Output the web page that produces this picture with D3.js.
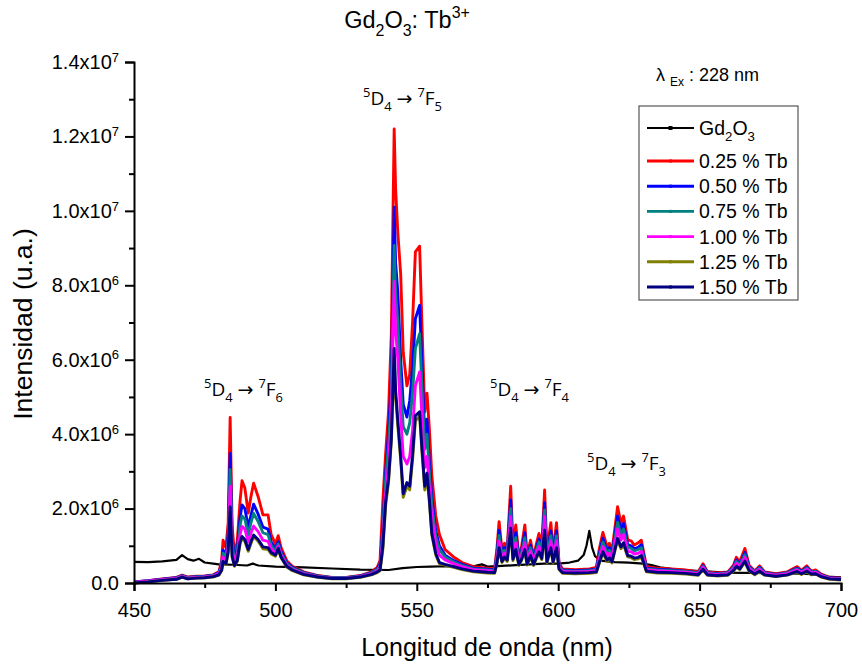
<!DOCTYPE html>
<html>
<head>
<meta charset="utf-8">
<script src="https://cdn.jsdelivr.net/npm/d3@7"></script>
<style>
  body { margin: 0; background: #fff; }
  text { font-family: "Liberation Sans", Arial, sans-serif; fill: #000; }
</style>
</head>
<body>
<div class="canvas"></div>
<script>

// ---- data (intensity in units of 10^6) ----

const gdNm = [450, 455, 460, 465, 467, 469, 471, 473, 475, 478, 480, 485, 490, 492, 494, 500, 510, 520, 530, 540,
  545, 550, 555, 560, 565, 570, 573, 575, 580, 585, 590, 595, 600, 604, 607, 609, 610, 611, 612, 613,
  615, 620, 625, 630, 633, 636, 640, 645, 650, 655, 660, 665, 670, 675, 680, 685, 690, 693, 695, 700];
const gdVal = [0.57, 0.56, 0.58, 0.62, 0.75, 0.64, 0.6, 0.65, 0.55, 0.52, 0.5, 0.49, 0.47, 0.52, 0.47, 0.44, 0.42, 0.39, 0.36, 0.35,
  0.4, 0.43, 0.44, 0.45, 0.44, 0.45, 0.5, 0.44, 0.46, 0.48, 0.5, 0.52, 0.52, 0.55, 0.6, 0.75, 1.0, 1.4, 0.95, 0.72,
  0.6, 0.56, 0.55, 0.52, 0.48, 0.42, 0.38, 0.35, 0.32, 0.3, 0.28, 0.27, 0.27, 0.26, 0.26, 0.25, 0.24, 0.2, 0.17, 0.15];

const tbNm = [450, 455, 460, 465, 467, 469, 472, 475, 478, 480,
  481, 481.5, 482.5, 483.3, 484, 484.7, 485.5, 486.5, 487.5, 488.2,
  489.2, 490.4, 491.3, 492.3, 493.9, 495.6, 497.4, 498.5, 500, 501,
  502, 504, 506, 510, 515, 520, 525, 530, 534, 536,
  537, 538, 539, 540, 541, 542, 542.5, 543.3, 544.3, 545.2,
  546.5, 547.5, 548.5, 549.5, 551, 551.8, 552.8, 553.6, 554.4, 555.3,
  556.7, 558, 560, 563, 566, 570, 575, 577.5, 578.3, 579.1,
  580.1, 581, 582, 583.2, 584, 585, 586.1, 587, 588.2, 589,
  590.2, 591.3, 592.3, 593.2, 594.2, 595.2, 596, 597.4, 598.2, 599.4,
  600.3, 601.5, 606, 611, 613.5, 614.5, 615.8, 617.3, 618.1, 619,
  621, 622.2, 623.1, 624.6, 625.8, 626.9, 628.3, 629.4, 631.2, 635,
  640, 645, 649.5, 651.2, 652.8, 656, 660, 662, 663, 664.2,
  666, 667.5, 669.5, 671.2, 673, 677, 681, 684.5, 686, 687.9,
  689.5, 691, 693, 696, 700];

const tb025 = [0.03, 0.06, 0.11, 0.15, 0.21, 0.16, 0.18, 0.19, 0.22, 0.30,
  0.60, 1.15, 0.95, 1.6, 4.45, 1.5, 0.85, 1.1, 2.2, 2.75,
  2.55, 1.88, 2.3, 2.68, 2.32, 1.83, 1.83, 1.3, 1.05, 1.27,
  0.95, 0.60, 0.45, 0.30, 0.20, 0.15, 0.15, 0.20, 0.30, 0.42,
  0.60, 2.2, 3.5, 4.6, 6.7, 12.2, 10.6, 9.4, 8.3, 6.2,
  5.3, 5.6, 7.0, 8.9, 9.05, 7.0, 4.6, 5.1, 4.2, 2.9,
  1.8, 1.3, 0.90, 0.70, 0.55, 0.44, 0.40, 0.38, 0.90, 1.65,
  0.89, 1.07, 0.95, 2.6, 0.97, 1.56, 0.71, 0.95, 1.56, 0.75,
  1.15, 0.71, 1.05, 1.33, 1.0, 2.5, 0.84, 1.62, 0.84, 1.62,
  0.53, 0.38, 0.36, 0.38, 0.42, 0.90, 1.36, 0.97, 1.07, 0.84,
  2.05, 1.6, 1.8, 1.15, 1.13, 1.02, 1.08, 1.15, 0.44, 0.40,
  0.38, 0.35, 0.30, 0.52, 0.30, 0.27, 0.30, 0.48, 0.69, 0.57,
  0.93, 0.48, 0.32, 0.46, 0.30, 0.25, 0.30, 0.44, 0.34, 0.46,
  0.32, 0.35, 0.24, 0.15, 0.13];

const tb050 = [0.03, 0.06, 0.10, 0.14, 0.20, 0.15, 0.17, 0.18, 0.21, 0.28,
  0.50, 0.88, 0.80, 1.3, 3.48, 1.2, 0.70, 0.90, 1.75, 2.1,
  2.0, 1.5, 1.8, 2.12, 1.85, 1.5, 1.45, 1.1, 0.92, 1.11,
  0.85, 0.55, 0.42, 0.28, 0.19, 0.14, 0.14, 0.19, 0.28, 0.38,
  0.50, 1.5, 3.0, 4.0, 5.5, 10.1, 8.6, 7.8, 6.0, 4.8,
  4.46, 4.9, 5.8, 7.1, 7.46, 5.9, 4.0, 4.4, 3.3, 2.3,
  1.4, 1.0, 0.75, 0.60, 0.50, 0.40, 0.37, 0.35, 0.75, 1.42,
  0.80, 0.95, 0.85, 2.23, 0.88, 1.35, 0.65, 0.85, 1.35, 0.68,
  1.02, 0.65, 0.95, 1.18, 0.90, 2.16, 0.76, 1.4, 0.76, 1.4,
  0.48, 0.35, 0.33, 0.35, 0.38, 0.78, 1.2, 0.86, 0.95, 0.76,
  1.8, 1.42, 1.6, 1.03, 1.0, 0.92, 0.96, 1.03, 0.40, 0.37,
  0.35, 0.32, 0.28, 0.47, 0.28, 0.25, 0.28, 0.44, 0.62, 0.51,
  0.82, 0.44, 0.30, 0.42, 0.28, 0.23, 0.28, 0.40, 0.32, 0.42,
  0.30, 0.32, 0.22, 0.14, 0.12];

const tb075 = [0.02, 0.05, 0.09, 0.13, 0.19, 0.14, 0.16, 0.17, 0.20, 0.26,
  0.45, 0.80, 0.72, 1.15, 3.05, 1.05, 0.62, 0.80, 1.55, 1.8,
  1.72, 1.3, 1.6, 1.87, 1.65, 1.35, 1.3, 1.02, 0.86, 1.05,
  0.80, 0.52, 0.40, 0.27, 0.18, 0.14, 0.14, 0.18, 0.27, 0.36,
  0.45, 1.35, 2.8, 3.7, 5.0, 9.07, 7.8, 7.0, 5.3, 4.2,
  4.0, 4.3, 5.1, 6.3, 6.7, 5.3, 3.6, 4.0, 3.0, 2.1,
  1.25, 0.90, 0.70, 0.57, 0.47, 0.38, 0.35, 0.33, 0.70, 1.28,
  0.75, 0.88, 0.80, 2.0, 0.82, 1.22, 0.62, 0.80, 1.22, 0.64,
  0.95, 0.62, 0.88, 1.1, 0.85, 1.96, 0.72, 1.27, 0.72, 1.27,
  0.46, 0.33, 0.31, 0.33, 0.36, 0.72, 1.1, 0.80, 0.88, 0.72,
  1.63, 1.3, 1.45, 0.95, 0.93, 0.86, 0.90, 0.95, 0.38, 0.35,
  0.33, 0.31, 0.27, 0.45, 0.27, 0.24, 0.27, 0.42, 0.58, 0.48,
  0.76, 0.42, 0.29, 0.40, 0.27, 0.22, 0.27, 0.38, 0.30, 0.40,
  0.29, 0.31, 0.21, 0.13, 0.11];

const tb100 = [0.02, 0.05, 0.09, 0.12, 0.18, 0.13, 0.15, 0.16, 0.19, 0.25,
  0.40, 0.70, 0.62, 1.0, 2.6, 0.90, 0.55, 0.70, 1.3, 1.52,
  1.45, 1.1, 1.33, 1.53, 1.38, 1.15, 1.12, 0.92, 0.80, 0.99,
  0.75, 0.48, 0.37, 0.25, 0.17, 0.13, 0.13, 0.17, 0.25, 0.33,
  0.40, 1.2, 2.4, 3.2, 4.5, 8.1, 6.8, 6.0, 4.5, 3.4,
  3.2, 3.4, 4.1, 5.3, 5.67, 4.5, 3.1, 3.4, 2.6, 1.8,
  1.05, 0.75, 0.62, 0.52, 0.44, 0.36, 0.33, 0.31, 0.62, 1.12,
  0.68, 0.80, 0.72, 1.78, 0.75, 1.08, 0.57, 0.72, 1.08, 0.59,
  0.86, 0.57, 0.80, 0.98, 0.77, 1.78, 0.66, 1.13, 0.66, 1.13,
  0.43, 0.31, 0.30, 0.31, 0.34, 0.65, 0.98, 0.72, 0.80, 0.66,
  1.45, 1.15, 1.3, 0.85, 0.84, 0.78, 0.80, 0.85, 0.36, 0.33,
  0.31, 0.29, 0.25, 0.42, 0.25, 0.23, 0.25, 0.39, 0.53, 0.44,
  0.69, 0.39, 0.27, 0.37, 0.25, 0.21, 0.25, 0.35, 0.28, 0.37,
  0.27, 0.29, 0.20, 0.12, 0.10];

const tb125 = [0.0, 0.03, 0.07, 0.10, 0.16, 0.11, 0.13, 0.14, 0.16, 0.21,
  0.33, 0.55, 0.50, 0.80, 1.95, 0.70, 0.45, 0.58, 1.05, 1.2,
  1.12, 0.85, 1.05, 1.25, 1.12, 0.92, 0.90, 0.78, 0.72, 0.88,
  0.68, 0.43, 0.33, 0.22, 0.15, 0.11, 0.11, 0.15, 0.22, 0.28,
  0.33, 0.90, 2.1, 2.7, 3.8, 6.1, 5.0, 4.2, 3.3, 2.3,
  2.6, 2.5, 3.3, 4.35, 4.5, 3.55, 2.5, 2.85, 2.2, 1.3,
  0.75, 0.52, 0.48, 0.42, 0.36, 0.30, 0.27, 0.26, 0.50, 0.90,
  0.55, 0.66, 0.58, 1.42, 0.60, 0.86, 0.47, 0.60, 0.86, 0.48,
  0.70, 0.47, 0.66, 0.80, 0.63, 1.38, 0.54, 0.90, 0.54, 0.90,
  0.36, 0.26, 0.25, 0.26, 0.28, 0.52, 0.80, 0.58, 0.65, 0.54,
  1.15, 0.92, 1.03, 0.70, 0.68, 0.63, 0.65, 0.70, 0.30, 0.27,
  0.26, 0.24, 0.21, 0.35, 0.21, 0.19, 0.21, 0.32, 0.43, 0.36,
  0.56, 0.32, 0.22, 0.30, 0.21, 0.17, 0.21, 0.29, 0.23, 0.30,
  0.22, 0.24, 0.16, 0.10, 0.08];

const tb150 = [0.0, 0.03, 0.07, 0.10, 0.16, 0.11, 0.13, 0.14, 0.17, 0.22,
  0.35, 0.58, 0.52, 0.85, 2.05, 0.72, 0.47, 0.60, 1.1, 1.25,
  1.17, 0.90, 1.1, 1.29, 1.17, 0.97, 0.95, 0.82, 0.75, 0.93,
  0.70, 0.45, 0.35, 0.23, 0.16, 0.12, 0.12, 0.16, 0.23, 0.30,
  0.35, 1.0, 2.2, 2.8, 3.9, 6.3, 5.2, 4.35, 3.4, 2.4,
  2.7, 2.6, 3.45, 4.5, 4.6, 3.65, 2.6, 2.95, 2.3, 1.34,
  0.80, 0.55, 0.50, 0.44, 0.38, 0.32, 0.29, 0.28, 0.52, 0.95,
  0.58, 0.70, 0.62, 1.47, 0.64, 0.90, 0.50, 0.63, 0.90, 0.51,
  0.74, 0.50, 0.70, 0.84, 0.66, 1.42, 0.57, 0.95, 0.57, 0.95,
  0.38, 0.28, 0.27, 0.28, 0.30, 0.55, 0.84, 0.62, 0.68, 0.57,
  1.2, 0.97, 1.08, 0.74, 0.72, 0.67, 0.69, 0.74, 0.32, 0.29,
  0.28, 0.26, 0.22, 0.37, 0.22, 0.20, 0.22, 0.34, 0.45, 0.38,
  0.59, 0.34, 0.24, 0.32, 0.22, 0.18, 0.22, 0.31, 0.25, 0.32,
  0.24, 0.25, 0.17, 0.11, 0.09];

const seriesNames = ['Gd2O3', '0.25 % Tb', '0.50 % Tb', '0.75 % Tb', '1.00 % Tb', '1.25 % Tb', '1.50 % Tb'];
const seriesColors = ['#000000', '#ff0000', '#0000ff', '#008080', '#ff00ff', '#808000', '#000080'];

const xTicks = [450, 500, 550, 600, 650, 700];
const xMinor = [475, 525, 575, 625, 675];
const yTicks = [0, 2, 4, 6, 8, 10, 12, 14];
const yMinor = [1, 3, 5, 7, 9, 11, 13];

// ---- setup ----

const dims = { width: 862, height: 667 };

const svg = d3.select('.canvas')
  .append('svg')
  .attr('width', dims.width)
  .attr('height', dims.height);

const x = d3.scaleLinear().domain([450, 700]).range([134, 841]);
const y = d3.scaleLinear().domain([0, 14]).range([583, 62]);

// writes text made of normal / sup / sub pieces
const rich = (sel, parts, size) => {
  let shift = 0;
  parts.forEach(p => {
    const target = p[1] === 'sup' ? -0.42 : p[1] === 'sub' ? 0.32 : 0;
    sel.append('tspan')
      .attr('dy', ((target - shift) * size) + 'px')
      .attr('font-size', p[1] ? (size * 0.68) + 'px' : null)
      .text(p[0]);
    shift = target;
  });
};

// ---- series ----

const allSeries = [
  gdNm.map((d, i) => [d, gdVal[i]]),
  tbNm.map((d, i) => [d, tb025[i]]),
  tbNm.map((d, i) => [d, tb050[i]]),
  tbNm.map((d, i) => [d, tb075[i]]),
  tbNm.map((d, i) => [d, tb100[i]]),
  tbNm.map((d, i) => [d, tb125[i]]),
  tbNm.map((d, i) => [d, tb150[i]])
];

const line = d3.line()
  .x(d => x(d[0]))
  .y(d => y(d[1]));

svg.append('g')
  .selectAll('path')
  .data(allSeries)
  .enter()
  .append('path')
    .attr('d', line)
    .attr('fill', 'none')
    .attr('stroke', (d, i) => seriesColors[i])
    .attr('stroke-width', (d, i) => i === 0 ? 2.2 : 2.9)
    .attr('stroke-linejoin', 'round');

// ---- axes ----

const xAxis = svg.append('g')
  .attr('transform', 'translate(0, 583)')
  .call(d3.axisBottom(x).tickValues(xTicks).tickSize(8).tickPadding(12).tickFormat(d3.format('d')));
svg.append('g')
  .attr('transform', 'translate(0, 583)')
  .call(d3.axisBottom(x).tickValues(xMinor).tickSize(5).tickFormat(''))
  .call(g => g.select('.domain').remove());

const yAxis = svg.append('g')
  .attr('transform', 'translate(134, 0)')
  .call(d3.axisLeft(y).tickValues(yTicks).tickSize(9).tickPadding(6));
svg.append('g')
  .attr('transform', 'translate(134, 0)')
  .call(d3.axisLeft(y).tickValues(yMinor).tickSize(5).tickFormat(''))
  .call(g => g.select('.domain').remove());

svg.selectAll('.domain, .tick line')
  .attr('stroke', '#000')
  .attr('stroke-width', 2);

xAxis.selectAll('text')
  .attr('font-size', 20)
  .attr('font-family', '"Liberation Sans", Arial, sans-serif');

yAxis.selectAll('text')
  .attr('font-size', 20)
  .attr('font-family', '"Liberation Sans", Arial, sans-serif')
  .each(function(d) {
    const t = d3.select(this).text('');
    if (d === 0) { t.text('0.0'); return; }
    const v = d * 1e6;
    const e = Math.floor(Math.log10(v));
    const m = (v / Math.pow(10, e)).toFixed(1);
    t.append('tspan').text(m + 'x10');
    t.append('tspan').attr('font-size', 13).attr('dy', '-0.55em').text(e);
  });

// ---- titles ----

svg.append('text')
  .attr('x', 407).attr('y', 28)
  .attr('text-anchor', 'middle')
  .attr('font-size', 23.5)
  .call(t => rich(t, [['Gd'], ['2', 'sub'], ['O'], ['3', 'sub'], [': Tb'], ['3+', 'sup']], 23.5));

svg.append('text')
  .attr('x', 487).attr('y', 656)
  .attr('text-anchor', 'middle')
  .attr('font-size', 25)
  .text('Longitud de onda (nm)');

svg.append('text')
  .attr('transform', 'translate(32, 324) rotate(-90)')
  .attr('text-anchor', 'middle')
  .attr('font-size', 26.5)
  .text('Intensidad (u.a.)');

// ---- transition labels ----

const transitions = [
  { pos: [204, 396], lvl: '6' },
  { pos: [363, 105], lvl: '5' },
  { pos: [490, 396], lvl: '4' },
  { pos: [587, 470], lvl: '3' }
];

svg.append('g')
  .selectAll('text')
  .data(transitions)
  .enter()
  .append('text')
    .attr('x', d => d.pos[0])
    .attr('y', d => d.pos[1])
    .attr('font-size', 19)
    .style('font-family', '"Open Sans", "DejaVu Sans", sans-serif')
    .each(function(d) {
      rich(d3.select(this), [['5', 'sup'], ['D'], ['4', 'sub'], [' \u2192 '], ['7', 'sup'], ['F'], [d.lvl, 'sub']], 19);
    });

// ---- excitation note ----

svg.append('text')
  .attr('x', 656).attr('y', 81)
  .attr('font-size', 18)
  .call(t => {
    t.append('tspan').text('\u03bb ');
    t.append('tspan').attr('font-size', 12).attr('dy', 5).text('Ex');
    t.append('tspan').attr('dy', -5).text(' : 228 nm');
  });

// ---- legend ----

const legend = svg.append('g').attr('transform', 'translate(639, 106)');

legend.append('rect')
  .attr('width', 159).attr('height', 194)
  .attr('fill', '#fff')
  .attr('stroke', '#555')
  .attr('stroke-width', 1.2);

const rows = legend.selectAll('.row')
  .data(seriesNames)
  .enter()
  .append('g')
    .attr('class', 'row')
    .attr('transform', (d, i) => `translate(0, ${i === 0 ? 22 : 55 + (i - 1) * 25.2})`);

rows.append('line')
  .attr('x1', 8).attr('x2', 55)
  .attr('stroke', (d, i) => seriesColors[i])
  .attr('stroke-width', (d, i) => i === 0 ? 2.2 : 2.9);

rows.append('rect')
  .attr('x', (d, i) => i === 0 ? 29.5 : 30)
  .attr('y', (d, i) => i === 0 ? -2 : -1.5)
  .attr('width', (d, i) => i === 0 ? 4 : 3)
  .attr('height', (d, i) => i === 0 ? 4 : 3)
  .attr('fill', (d, i) => seriesColors[i]);

rows.append('text')
  .attr('x', 60)
  .attr('y', 7)
  .attr('font-size', 19.5)
  .each(function(d, i) {
    const t = d3.select(this);
    if (i === 0) rich(t, [['Gd'], ['2', 'sub'], ['O'], ['3', 'sub']], 19.5);
    else t.text(d);
  });

</script>
</body>
</html>
